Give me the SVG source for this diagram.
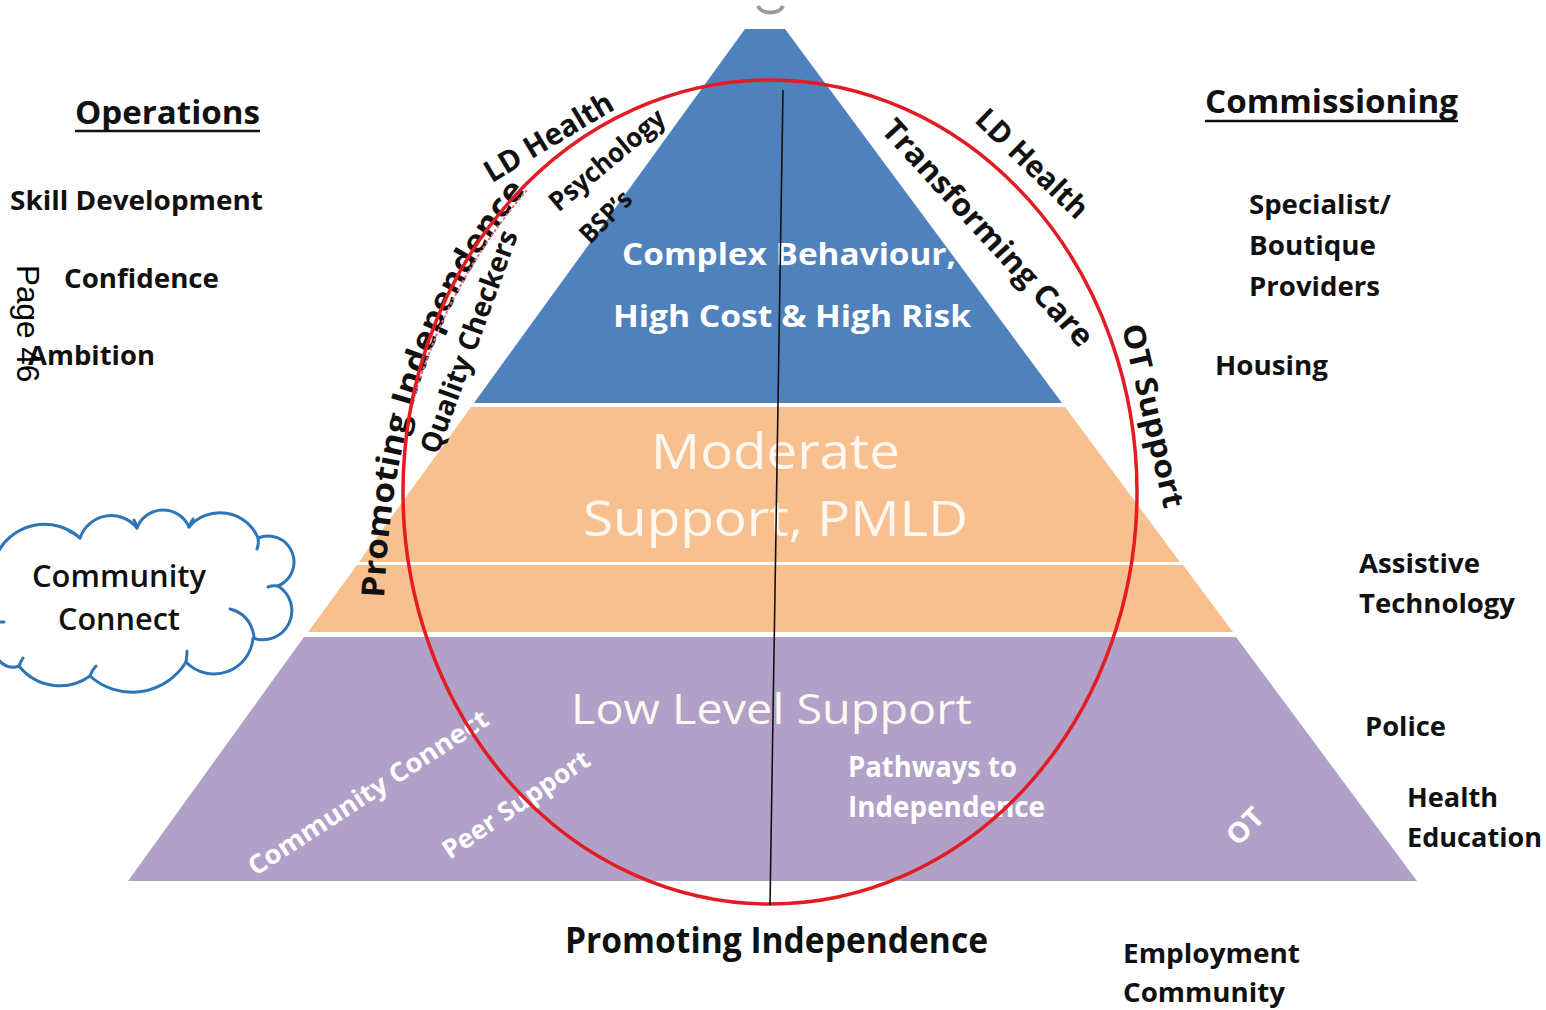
<svg xmlns="http://www.w3.org/2000/svg" width="1546" height="1010" viewBox="0 0 1546 1010">
  <defs>
    <style>
      .t { font-family: "Open Sans", "Liberation Sans", sans-serif; }
      .bk { fill: #111; font-weight: 700; }
      .h { font-size: 33px; }
      .item { font-size: 27px; }
      .wb { fill: #fff; font-weight: 700; }
      .wr { fill: #fdf8f2; font-weight: 400; }
      .ul { stroke: #111; stroke-width: 2.5; }
      .cloud { fill: #fff; stroke: #2e75b6; stroke-width: 3; stroke-linejoin: round; }
      .tail { fill: none; stroke: #2e75b6; stroke-width: 3; stroke-linecap: round; }
    </style>
    <!-- baseline curve for the arched label on the left of the ring -->
    <path id="pi-arc" d="M384,598 C390,480 410,330 528,188"/>
  </defs>

  <rect width="1546" height="1010" fill="#fff"/>

  <!-- small grey ring fragment above the apex -->
  <path d="M758,6 A13,9 0 0 0 783,6" fill="none" stroke="#9a9a9a" stroke-width="4"/>

  <!-- pyramid tiers -->
  <g id="tier-complex">
    <polygon points="745,29 785,29 1062,403 474,403" fill="#4f81bd"/>
    <text class="t wb" x="622" y="265" font-size="31" textLength="334" lengthAdjust="spacingAndGlyphs">Complex Behaviour,</text>
    <text class="t wb" x="613" y="327" font-size="31" textLength="358" lengthAdjust="spacingAndGlyphs">High Cost &amp; High Risk</text>
  </g>
  <g id="tier-moderate">
    <polygon points="471,407 1065,407 1180,562 359,562" fill="#f9c08f"/>
    <polygon points="357,565 1183,565 1233,632 308,632" fill="#f9c08f"/>
    <text class="t wr" x="651" y="469" font-size="49" textLength="249" lengthAdjust="spacingAndGlyphs">Moderate</text>
    <text class="t wr" x="583" y="536" font-size="49" textLength="385" lengthAdjust="spacingAndGlyphs">Support, PMLD</text>
  </g>
  <g id="tier-low">
    <polygon points="304,637 1236,637 1417,881 128,881" fill="#b1a0c7"/>
    <text class="t wr" x="571" y="724" font-size="42" textLength="401" lengthAdjust="spacingAndGlyphs">Low Level Support</text>
    <text class="t wb" x="848" y="777" font-size="28" textLength="169" lengthAdjust="spacingAndGlyphs">Pathways to</text>
    <text class="t wb" x="848" y="817" font-size="28" textLength="197" lengthAdjust="spacingAndGlyphs">Independence</text>
    <text class="t wb" transform="translate(1252,833) rotate(-45)" text-anchor="middle" font-size="28" textLength="40" lengthAdjust="spacingAndGlyphs">OT</text>
    <text class="t wb" transform="translate(373,800) rotate(-33)" text-anchor="middle" font-size="26" textLength="281" lengthAdjust="spacingAndGlyphs">Community Connect</text>
    <text class="t wb" transform="translate(521,812) rotate(-34)" text-anchor="middle" font-size="26" textLength="172" lengthAdjust="spacingAndGlyphs">Peer Support</text>
  </g>

  <!-- labels around the ring -->
  <g id="ring-labels">
    <text class="t bk" font-size="32">
      <textPath href="#pi-arc" textLength="440" lengthAdjust="spacingAndGlyphs">Promoting Independence</textPath>
    </text>
    <!-- spell-check squiggle under the arched word -->
    <path d="M410,412 C430,338 465,262 527,190" fill="none" stroke="#e8707e" stroke-width="2" stroke-dasharray="3 2"/>
    <text class="t bk" transform="translate(554,146) rotate(-31)" text-anchor="middle" font-size="30" textLength="145" lengthAdjust="spacingAndGlyphs">LD Health</text>
    <text class="t bk" transform="translate(613,167) rotate(-40)" text-anchor="middle" font-size="27" textLength="142" lengthAdjust="spacingAndGlyphs">Psychology</text>
    <text class="t bk" transform="translate(612,223) rotate(-45)" text-anchor="middle" font-size="26" textLength="62" lengthAdjust="spacingAndGlyphs">BSP’s</text>
    <text class="t bk" transform="translate(478,345) rotate(-70)" text-anchor="middle" font-size="28" textLength="235" lengthAdjust="spacingAndGlyphs">Quality Checkers</text>
    <text class="t bk" transform="translate(1025,171) rotate(44)" text-anchor="middle" font-size="30" textLength="143" lengthAdjust="spacingAndGlyphs">LD Health</text>
    <text class="t bk" transform="translate(980,240) rotate(47.5)" text-anchor="middle" font-size="31" textLength="296" lengthAdjust="spacingAndGlyphs">Transforming Care</text>
    <text class="t bk" transform="translate(1143,418) rotate(77)" text-anchor="middle" font-size="30" textLength="188" lengthAdjust="spacingAndGlyphs">OT Support</text>
  </g>

  <!-- ring and centre divider -->
  <g id="connectors">
    <ellipse cx="770" cy="492" rx="367" ry="412" fill="none" stroke="#e31b23" stroke-width="3.5"/>
    <line x1="783" y1="90" x2="770" y2="905" stroke="#111" stroke-width="1.6"/>
  </g>

  <!-- operations column -->
  <g id="operations">
    <text class="t bk h" x="75" y="124" textLength="185" lengthAdjust="spacingAndGlyphs">Operations</text>
    <line class="ul" x1="75" y1="131" x2="260" y2="131"/>
    <text class="t bk item" x="10" y="210" textLength="253" lengthAdjust="spacingAndGlyphs">Skill Development</text>
    <text class="t bk item" x="64" y="288" textLength="155" lengthAdjust="spacingAndGlyphs">Confidence</text>
    <text class="t bk item" x="28" y="365" textLength="127" lengthAdjust="spacingAndGlyphs">Ambition</text>
  </g>

  <!-- page number -->
  <g id="page-number">
    <text transform="translate(17,265) rotate(90)" font-family="'Liberation Sans', Arial, sans-serif" font-size="31.5" fill="#000">Page 46</text>
  </g>

  <!-- commissioning column -->
  <g id="commissioning">
    <text class="t bk h" x="1205" y="113" textLength="253" lengthAdjust="spacingAndGlyphs">Commissioning</text>
    <line class="ul" x1="1205" y1="121" x2="1458" y2="121"/>
    <text class="t bk item" x="1249" y="214" textLength="142" lengthAdjust="spacingAndGlyphs">Specialist/</text>
    <text class="t bk item" x="1249" y="255" textLength="127" lengthAdjust="spacingAndGlyphs">Boutique</text>
    <text class="t bk item" x="1249" y="296" textLength="131" lengthAdjust="spacingAndGlyphs">Providers</text>
    <text class="t bk item" x="1215" y="375" textLength="113" lengthAdjust="spacingAndGlyphs">Housing</text>
    <text class="t bk item" x="1359" y="573" textLength="121" lengthAdjust="spacingAndGlyphs">Assistive</text>
    <text class="t bk item" x="1359" y="613" textLength="156" lengthAdjust="spacingAndGlyphs">Technology</text>
    <text class="t bk item" x="1365" y="736" textLength="81" lengthAdjust="spacingAndGlyphs">Police</text>
    <text class="t bk item" x="1407" y="807" textLength="91" lengthAdjust="spacingAndGlyphs">Health</text>
    <text class="t bk item" x="1407" y="847" textLength="135" lengthAdjust="spacingAndGlyphs">Education</text>
    <text class="t bk item" x="1123" y="963" textLength="177" lengthAdjust="spacingAndGlyphs">Employment</text>
    <text class="t bk item" x="1123" y="1002" textLength="162" lengthAdjust="spacingAndGlyphs">Community</text>
  </g>

  <!-- base caption -->
  <g id="base-caption">
    <text class="t bk" x="565" y="953" font-size="36" textLength="423" lengthAdjust="spacingAndGlyphs">Promoting Independence</text>
  </g>

  <!-- community connect cloud -->
  <g id="community-cloud">
    <path class="cloud" d="M-10,556 L-4,556
      A53,53 0 0 1 80,538
      A33,33 0 0 1 137,528
      A28,28 0 0 1 189,527
      A41,41 0 0 1 258,538
      A26,26 0 0 1 278,586
      A29,29 0 0 1 253,638
      A39,39 0 0 1 186,662
      A63,63 0 0 1 90,676
      A52,52 0 0 1 19,666
      A17,17 0 0 1 -4,648
      L-10,648 Z"/>
    <path class="tail" d="M230,609 Q250,614 254,636 M80,538 q-5,-5 -11,-7 M137,528 q-1,-5 -3,-8 M189,527 q2,-5 4,-8 M258,538 q1,6 -1,11 M278,586 q-5,-1 -10,1 M186,662 q1,-6 1,-11 M90,676 q2,-6 6,-10 M19,666 q2,-5 4,-8 M-2,622 l6,0"/>
    <text class="t" x="32" y="587" font-size="31" font-weight="600" fill="#111" textLength="174" lengthAdjust="spacingAndGlyphs">Community</text>
    <text class="t" x="58" y="630" font-size="31" font-weight="600" fill="#111" textLength="122" lengthAdjust="spacingAndGlyphs">Connect</text>
  </g>
</svg>
